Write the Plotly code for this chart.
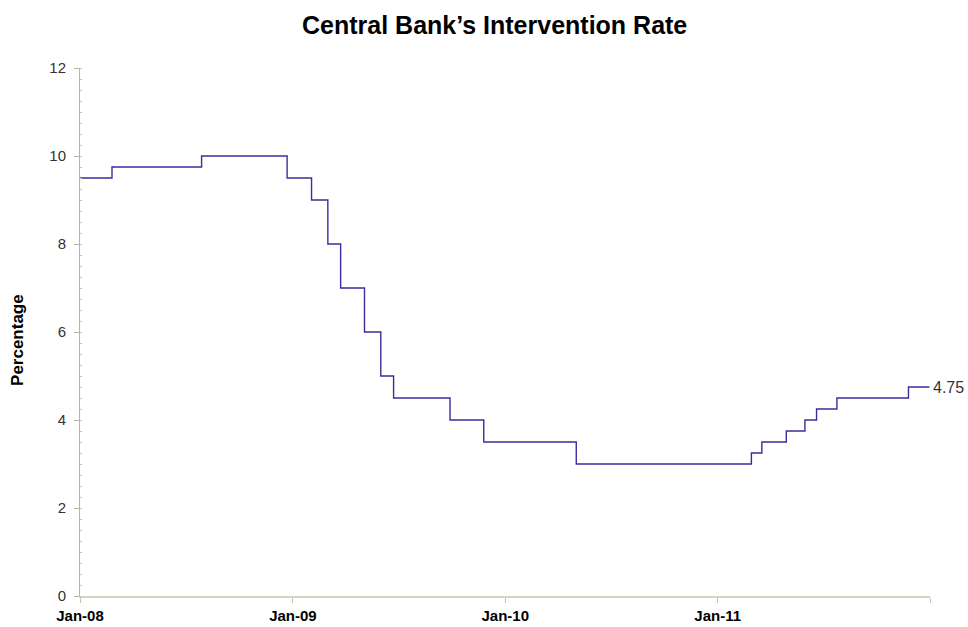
import plotly.graph_objects as go

# Step change dates and rates (Central Bank intervention rate, %)
dates = ["2008-01-01", "2008-02-25", "2008-07-28", "2008-12-22", "2009-02-02",
         "2009-03-02", "2009-03-24", "2009-05-04", "2009-06-01", "2009-06-23",
         "2009-09-28", "2009-11-25", "2010-05-03", "2011-02-28", "2011-03-18",
         "2011-04-29", "2011-05-31", "2011-06-20", "2011-07-25", "2011-11-25",
         "2011-12-31"]
rates = [9.50, 9.75, 10.00, 9.50, 9.00,
         8.00, 7.00, 6.00, 5.00, 4.50,
         4.00, 3.50, 3.00, 3.25, 3.50,
         3.75, 4.00, 4.25, 4.50, 4.75,
         4.75]

tick_vals = ["2008-01-01", "2009-01-01", "2010-01-01", "2011-01-01", "2012-01-01"]
tick_text = ["Jan-08", "Jan-09", "Jan-10", "Jan-11", ""]

last_label = "4.75"
FONT = "Liberation Sans, Arial"

fig = go.Figure()
fig.add_trace(go.Scatter(
    x=dates, y=rates, mode="lines", line_shape="hv",
    line=dict(color="#3B2E9C", width=1.4), showlegend=False, hoverinfo="x+y"))

fig.add_annotation(x=dates[-1], y=rates[-1], text=last_label, showarrow=False,
                   xanchor="left", yanchor="middle", xshift=2,
                   font=dict(family=FONT, size=16, color="#333333"))

fig.add_annotation(xref="paper", yref="paper", x=-0.0729, y=0.485,
                   text="<b>Percentage</b>", textangle=-90, showarrow=False,
                   xanchor="center", yanchor="middle",
                   font=dict(family=FONT, size=17, color="black"))

fig.update_layout(
    width=968, height=627,
    margin=dict(l=80, r=38, t=68, b=31, autoexpand=False),
    paper_bgcolor="white", plot_bgcolor="white",
    title=dict(text="<b>Central Bank\u2019s Intervention Rate</b>", x=0.511, xanchor="center",
               y=0.959, yanchor="middle",
               font=dict(family=FONT, size=25, color="black")),
    xaxis=dict(range=["2008-01-01", "2012-01-01"], tickmode="array",
               tickvals=tick_vals, ticktext=tick_text, automargin=False,
               showgrid=False, zeroline=False, showline=True,
               linecolor="#D8D2C0", linewidth=1.5,
               ticks="outside", ticklen=5, tickcolor="#C8C2B0",
               tickfont=dict(family=FONT, size=15, color="black", weight="bold")),
    yaxis=dict(range=[0, 12], tickvals=[0, 2, 4, 6, 8, 10, 12], automargin=False,
               showgrid=False, zeroline=False, showline=True,
               linecolor="#B8B4A4", linewidth=1,
               ticks="outside", ticklen=5, tickcolor="#B8B4A4",
               ticklabelstandoff=5,
               minor=dict(dtick=0.25, ticks="inside", ticklen=2, tickcolor="#C8C4B4"),
               tickfont=dict(family=FONT, size=15, color="#333333")),
)

fig.write_html("out.html")
